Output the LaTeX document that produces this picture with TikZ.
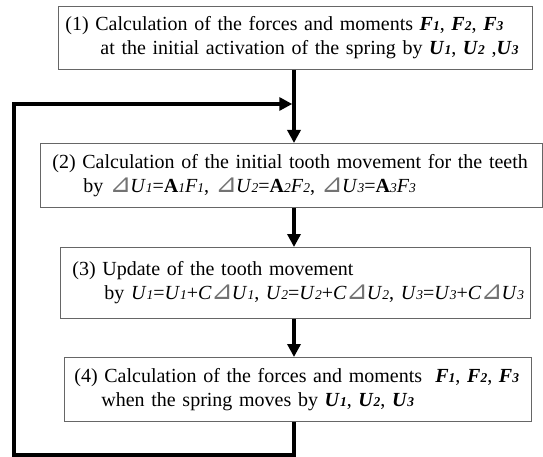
\documentclass[tikz,border=0pt]{standalone}
\usepackage{fontspec}
\setmainfont{Liberation Serif}
\newfontfamily\symfont{DejaVu Sans}
\usetikzlibrary{arrows.meta, positioning}
\newcommand\sub[1]{{\fontsize{13.5}{13.5}\selectfont #1}}
\newcommand\bvar[2]{\textbf{\textit{#1}}\sub{\textbf{\textit{#2}}}}
\newcommand\ivar[2]{\textit{#1}\sub{\textit{#2}}}
\newcommand\dlt{{\color{black!55}\fontsize{26}{24}\symfont\kern-0.5pt⊿\kern-1pt}}

\begin{document}
\begin{tikzpicture}[x=1pt, y=-1pt,
    box/.style={draw=black!60, line width=0.8pt, anchor=north west,
      align=left, inner ysep=0pt, font=\fontsize{20}{24}\selectfont},
    arr/.style={-{Triangle[length=13pt, width=13pt]}, line width=3.5pt}
  ]
    \useasboundingbox (0,0) rectangle (543,457);
    \node[box, minimum height=63pt, inner xsep=7pt, text width=460pt]
      (calc1) at (58,6) {
      \mbox{(1) Calculation of the forces and moments \bvar{F}{1}, \bvar{F}{2}, \bvar{F}{3}}\\
      \mbox{\hspace*{35pt}at the initial activation of the spring by \bvar{U}{1}, \bvar{U}{2} ,\bvar{U}{3}}
    };
    \node[box, minimum height=64pt, inner xsep=12pt, text width=478pt]
      (calc2) at (40,143) {
      \mbox{(2) Calculation of the initial tooth movement for the teeth}\\
      \mbox{\hspace*{31pt}by \dlt\ivar{U}{1}=\textbf{A}\sub{\textit{1}}\ivar{F}{1}, \dlt\ivar{U}{2}=\textbf{A}\sub{\textit{2}}\ivar{F}{2}, \dlt\ivar{U}{3}=\textbf{A}\sub{\textit{3}}\ivar{F}{3}}
    };
    \node[box, minimum height=71pt, inner xsep=12pt, text width=446pt]
      (update) at (60,247) {
      \mbox{(3) Update of the tooth movement}\\
      \mbox{\hspace*{32pt}by \ivar{U}{1}=\ivar{U}{1}+\textit{C}\dlt\ivar{U}{1}, \ivar{U}{2}=\ivar{U}{2}+\textit{C}\dlt\ivar{U}{2}, \ivar{U}{3}=\ivar{U}{3}+\textit{C}\dlt\ivar{U}{3}}
    };
    \node[box, minimum height=64pt, inner xsep=10pt, text width=447pt]
      (calc4) at (64,357) {
      \mbox{(4) Calculation of the forces and moments\ \ \bvar{F}{1}, \bvar{F}{2}, \bvar{F}{3}}\\
      \mbox{\hspace*{27pt}when the spring moves by \bvar{U}{1}, \bvar{U}{2}, \bvar{U}{3}}
    };
    % spine and loop-back path
    \coordinate (spine) at (294,0);
    \coordinate (loopin) at (294,104);
    \coordinate (corner) at (14,455);
    \draw[arr] (calc1.south -| spine) -- (calc2.north -| spine);
    \draw[arr] (calc2.south -| spine) -- (update.north -| spine);
    \draw[arr] (update.south -| spine) -- (calc4.north -| spine);
    \draw[arr, shorten >=1.75pt] (calc4.south -| spine) |- (corner) |- (loopin);
  \end{tikzpicture}
\end{document}
